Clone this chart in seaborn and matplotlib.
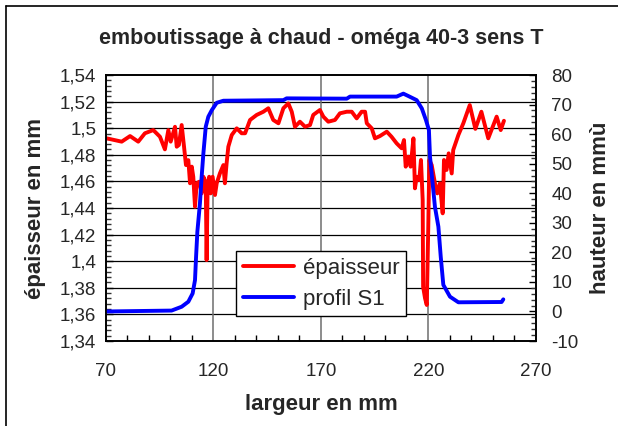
import matplotlib
matplotlib.use("Agg")
import matplotlib.pyplot as plt
import matplotlib.ticker as mticker
from matplotlib.lines import Line2D
import seaborn as sns
import pandas as pd

# thickness measured across the strip (mm)
x_epaisseur = [70.3, 77.3, 81.2, 85.0, 88.1, 92.0, 95.1, 97.4, 99.0, 100.1,
               102.1, 102.9, 103.9, 105.2, 106.3, 107.2, 108.3, 109.1, 109.9, 110.6,
               111.4, 112.2, 113.4, 114.5, 115.3, 116.4, 116.8, 117.3, 118.0, 118.7,
               119.6, 120.7, 121.5, 123.0, 124.6, 125.3, 126.1, 126.9, 128.5, 130.8,
               133.1, 134.7, 137.0, 140.1, 143.2, 145.5, 147.8, 150.2, 152.5, 154.8,
               156.4, 157.9, 160.2, 162.6, 164.9, 166.4, 169.5, 171.1, 173.4, 176.5,
               178.8, 182.0, 184.3, 186.6, 188.9, 190.5, 191.3, 193.6, 195.1, 197.4,
               200.6, 202.8, 205.2, 207.5, 208.6, 209.4, 210.6, 211.7, 213.0, 213.7,
               214.5, 215.7, 216.5, 217.3, 217.5, 218.4, 219.2, 219.9, 220.4, 221.5,
               223.0, 224.1, 225.3, 226.6, 227.2, 228.4, 229.4, 230.8, 231.5, 233.9,
               236.2, 239.2, 241.8, 244.6, 247.8, 251.7, 253.6, 255.1]
epaisseur = [1.4924, 1.4899, 1.4941, 1.4899, 1.4962, 1.4986, 1.4936, 1.4841, 1.4986, 1.4899,
             1.5011, 1.4861, 1.4874, 1.5024, 1.4861, 1.4723, 1.4760, 1.4586, 1.4711, 1.4635,
             1.4410, 1.4586, 1.4598, 1.4510, 1.4635, 1.4586, 1.4009, 1.4586, 1.4635, 1.4510,
             1.4635, 1.4498, 1.4586, 1.4661, 1.4723, 1.4586, 1.4736, 1.4861, 1.4949, 1.4999,
             1.4962, 1.4962, 1.5062, 1.5100, 1.5124, 1.5150, 1.5062, 1.5037, 1.5150, 1.5187,
             1.5124, 1.5011, 1.5049, 1.5011, 1.5024, 1.5100, 1.5137, 1.5087, 1.5049, 1.5062,
             1.5112, 1.5124, 1.5124, 1.5074, 1.5124, 1.5124, 1.5037, 1.4999, 1.4924, 1.4941,
             1.4974, 1.4936, 1.4886, 1.4849, 1.4911, 1.4711, 1.4786, 1.4711, 1.4924, 1.4548,
             1.4635, 1.4610, 1.4761, 1.4460, 1.3808, 1.3721, 1.3671, 1.4260, 1.4761, 1.4723,
             1.4586, 1.4510, 1.4586, 1.4360, 1.4761, 1.4686, 1.4811, 1.4660, 1.4836, 1.4949,
             1.5037, 1.5174, 1.4995, 1.5124, 1.4924, 1.5087, 1.4986, 1.5056]

# height profile S1 (mm)
x_profil = [70.3, 100.5, 105.2, 108.3, 110.3, 111.4, 111.9, 112.5, 113.7, 114.5,
            115.3, 116.4, 117.6, 119.2, 121.5, 124.6, 152.5, 154.0, 182.0, 183.5,
            205.2, 208.3, 210.6, 214.5, 216.9, 218.8, 220.2, 220.7, 223.0, 224.6,
            225.7, 226.9, 230.0, 233.9, 254.0, 254.8]
profil = [0.0, 0.3, 1.6, 3.3, 6.1, 10.6, 18.5, 27.0, 36.6, 45.6,
          53.5, 62.5, 65.9, 68.1, 70.6, 71.3, 71.5, 72.1, 72.0, 72.7,
          72.7, 73.7, 72.9, 71.5, 68.7, 64.8, 61.4, 52.4, 35.4, 28.7,
          18.5, 9.0, 5.0, 3.1, 3.2, 4.1]

x_ticks = [70, 120, 170, 220, 270]
y_left_ticks = [1.34, 1.36, 1.38, 1.40, 1.42, 1.44, 1.46, 1.48, 1.50, 1.52, 1.54]
y_right_ticks = [-10, 0, 10, 20, 30, 40, 50, 60, 70, 80]

sns.set_style("white")
plt.rcParams["font.family"] = ["Liberation Sans", "DejaVu Sans"]

df_e = pd.DataFrame({"x": x_epaisseur, "y": epaisseur})
df_p = pd.DataFrame({"x": x_profil, "y": profil})

fig = plt.figure(figsize=(6.18, 4.26), dpi=100)
ax = fig.add_axes([0.1715, 0.1995, 0.6958, 0.6244])
ax2 = ax.twinx()

sns.lineplot(data=df_e, x="x", y="y", ax=ax, color="#ff0000", lw=2.8,
             estimator=None, sort=False, label="épaisseur", legend=False)
sns.lineplot(data=df_p, x="x", y="y", ax=ax2, color="#0000ff", lw=2.8,
             estimator=None, sort=False, label="profil S1", legend=False)

ax.set_xlim(70, 270)
ax.set_ylim(1.34, 1.54)
ax2.set_ylim(-10, 80)

ax.xaxis.set_major_locator(mticker.FixedLocator(x_ticks))
ax.xaxis.set_minor_locator(mticker.MultipleLocator(10))
ax.yaxis.set_major_locator(mticker.FixedLocator(y_left_ticks))
ax.yaxis.set_minor_locator(mticker.MultipleLocator(0.004))
ax2.yaxis.set_major_locator(mticker.FixedLocator(y_right_ticks))
ax2.yaxis.set_minor_locator(mticker.MultipleLocator(2))

def comma_fmt(v, pos):
    s = f"{v:.2f}".rstrip("0").rstrip(".")
    return s.replace(".", ",")

ax.yaxis.set_major_formatter(mticker.FuncFormatter(comma_fmt))
ax.xaxis.set_major_formatter(mticker.FuncFormatter(lambda v, p: f"{v:g}"))
ax2.yaxis.set_major_formatter(mticker.FuncFormatter(lambda v, p: f"{v:g}"))

# gridlines: black horizontal, grey vertical
for v in y_left_ticks[1:-1]:
    ax.axhline(v, color="#000000", lw=0.9, zorder=0.5)
for v in x_ticks[1:-1]:
    ax.axvline(v, color="#6e6e6e", lw=1.1, zorder=0.5)

ax.tick_params(axis="x", which="major", direction="in", length=5, width=1,
               labelsize=13.5, pad=16, color="#000000")
ax.tick_params(axis="x", which="minor", direction="in", length=4, width=1,
               color="#000000", bottom=True)
ax.tick_params(axis="y", which="major", direction="in", length=5, width=1,
               labelsize=13.5, pad=7, color="#000000")
ax.tick_params(axis="y", which="minor", direction="in", length=3.5, width=1,
               color="#333333", left=True)
ax2.tick_params(axis="y", which="major", direction="in", length=5, width=1,
                labelsize=13.5, pad=11, color="#000000")
ax2.tick_params(axis="y", which="minor", direction="in", length=3.5, width=1,
                color="#333333", right=True)

for a in (ax, ax2):
    for sp in a.spines.values():
        sp.set_color("#000000")
        sp.set_linewidth(1.2)
    a.grid(False)

ax.set_xlabel("largeur en mm", fontsize=16, fontweight="bold", labelpad=10)
ax.set_ylabel("épaisseur en mm", fontsize=16, fontweight="bold", labelpad=10)
ax2.set_ylabel("hauteur en mmù", fontsize=16, fontweight="bold", labelpad=8)
ax.set_title("emboutissage à chaud - oméga 40-3 sens T", fontsize=15.5,
             fontweight="bold", pad=22)

handles = [Line2D([], [], color="#ff0000", lw=2.8),
           Line2D([], [], color="#0000ff", lw=2.8)]
leg = ax2.legend(handles, ["épaisseur", "profil S1"], loc="upper left",
                 bbox_to_anchor=(0.302, 0.338), fontsize=16, frameon=True,
                 fancybox=False, edgecolor="#000000", framealpha=1,
                 handlelength=2.3, handletextpad=0.4, borderpad=0.3,
                 labelspacing=0.45, borderaxespad=0, handleheight=0.6)
leg.get_frame().set_linewidth(1.0)

# outer chart frame (left and top edges)
fig.add_artist(Line2D([6 / 618, 6 / 618], [0, 1 - 6 / 426], color="#000000",
                      lw=1.2, transform=fig.transFigure))
fig.add_artist(Line2D([6 / 618, 1], [1 - 6 / 426, 1 - 6 / 426], color="#000000",
                      lw=1.2, transform=fig.transFigure))

fig.savefig("out.png", dpi=100)
